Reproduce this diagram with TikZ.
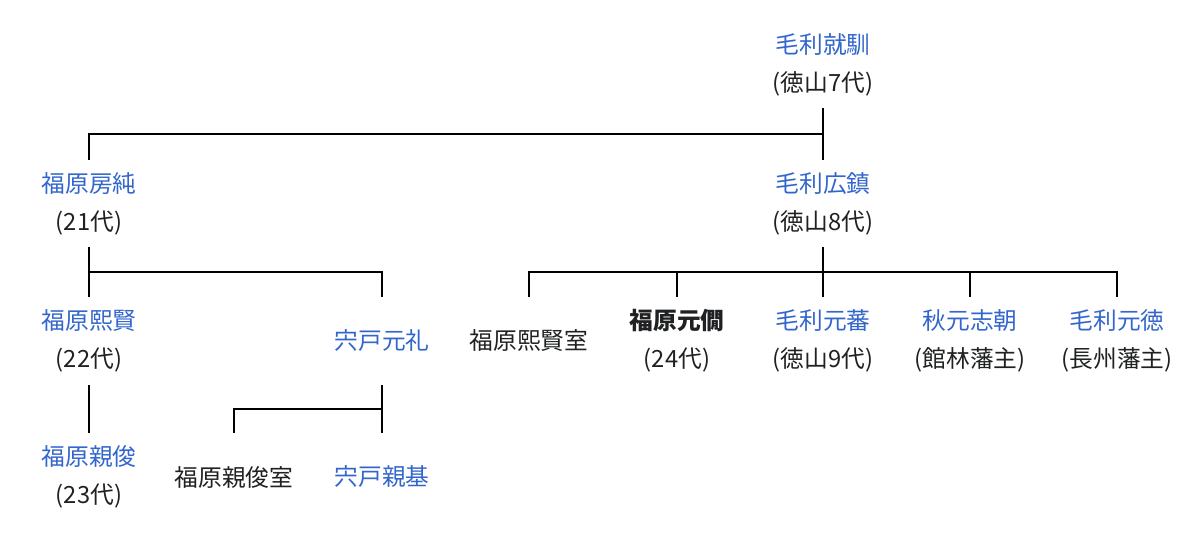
\documentclass[tikz,border=0pt]{standalone}
\usepackage{fontspec}
\usepackage{tikz}
\newfontfamily\jpfont{Noto Sans CJK JP}
\definecolor{linkblue}{RGB}{51,102,204}
\definecolor{inkgray}{RGB}{32,33,34}
\tikzset{
    person/.style={inner sep=0pt, minimum height=1.74cm, align=center,
        text=inkgray, font=\jpfont\fontsize{13.5}{21.5}\selectfont},
    link/.style={draw=black, line width=1.1pt},
}

\begin{document}
\begin{tikzpicture}[x=0.02cm, y=-0.02cm]

    \useasboundingbox (0,0) rectangle (1200,542);
    
    \node[person] (narinori) at (823, 64.5) {\textcolor{linkblue}{毛利就馴}\\(徳山7代)};
    
    \node[person] (fusazumi) at (89, 203.5) {\textcolor{linkblue}{福原房純}\\(21代)};
    \node[person] (hiroshige) at (823, 203.5) {\textcolor{linkblue}{毛利広鎮}\\(徳山8代)};
    
    \node[person] (hirokata) at (89, 341) {\textcolor{linkblue}{福原熙賢}\\(22代)};
    \node[person] (motonori) at (382, 341) {\textcolor{linkblue}{宍戸元礼}};
    \node[person] (hirokatawife) at (529, 341) {福原熙賢室};
    \node[person] (motoyoshi) at (677, 341) {\textbf{福原元僩}\\(24代)};
    \node[person] (motomitsu) at (823, 341) {\textcolor{linkblue}{毛利元蕃}\\(徳山9代)};
    \node[person] (yukitomo) at (970, 341) {\textcolor{linkblue}{秋元志朝}\\(館林藩主)};
    \node[person] (motonori2) at (1117, 341) {\textcolor{linkblue}{毛利元徳}\\(長州藩主)};
    
    \node[person] (chikatoshi) at (89, 477) {\textcolor{linkblue}{福原親俊}\\(23代)};
    \node[person] (chikatoshiwife) at (234, 477) {福原親俊室};
    \node[person] (chikamoto) at (382, 477) {\textcolor{linkblue}{宍戸親基}};
    
    % bars between generations
    \path (narinori.south) -- (hiroshige.north) coordinate[pos=0.5] (b1);
    \path (fusazumi.south) -- (hirokata.north) coordinate[pos=0.5] (b2);
    \path (hiroshige.south) -- (motomitsu.north) coordinate[pos=0.5] (b3);
    \path (motonori.south) -- (chikamoto.north) coordinate[pos=0.5] (b4);
    
    \draw[link] (narinori.south) -- (hiroshige.north);
    \draw[link] (b1) -| (fusazumi.north);
    
    \draw[link] (fusazumi.south) -- (hirokata.north);
    \draw[link] (b2) -| (motonori.north);
    
    \draw[link] (hiroshige.south) -- (motomitsu.north);
    \foreach \n in {hirokatawife, motoyoshi, yukitomo, motonori2}
        \draw[link] (b3) -| (\n.north);
    
    \draw[link] (hirokata.south) -- (chikatoshi.north);
    \draw[link] (motonori.south) -- (chikamoto.north);
    \draw[link] (b4) -| (chikatoshiwife.north);
    
\end{tikzpicture}
\end{document}
